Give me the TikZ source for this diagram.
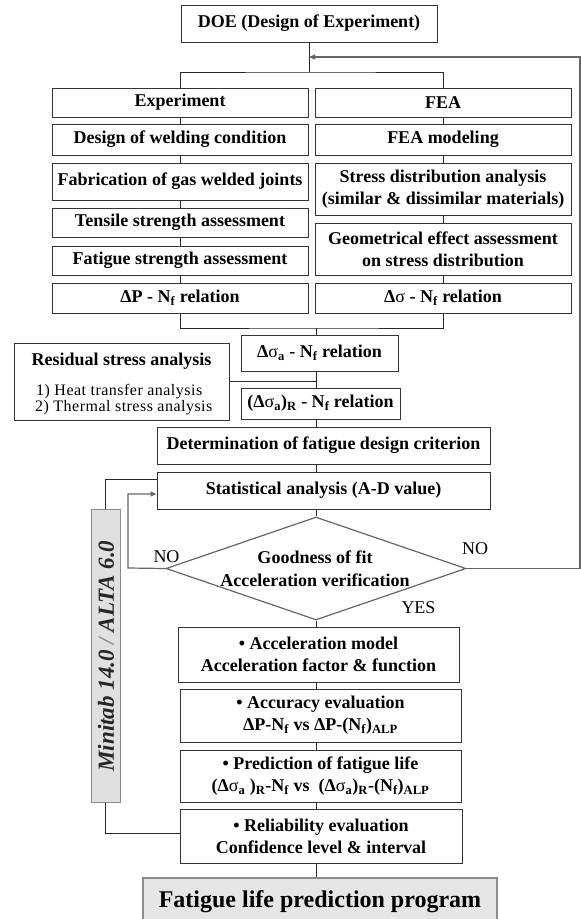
\documentclass[tikz,border=0pt]{standalone}
\usepackage{fontspec}
\setmainfont{Liberation Serif}
\usetikzlibrary{shapes.geometric,arrows.meta}
\begin{document}
\begin{tikzpicture}[x=1pt,y=-1pt,
  box/.style={draw=black!80, line width=1pt, fill=white, inner sep=0pt, align=center, font=\bfseries\fontsize{18}{22}\selectfont},
  ln/.style={draw=black!85, line width=0.8pt},
  fb/.style={draw=black!60, line width=1.2pt},
  tip/.style={-{Triangle[length=6pt,width=5pt]}},
  lbl/.style={inner sep=0pt, font=\fontsize{18}{20}\selectfont},
  rtxt/.style={inner sep=0pt, anchor=west, font=\fontsize{16}{16}\selectfont\addfontfeature{LetterSpace=3}}]
\clip (0,0) rectangle (581,919);
\fill[white] (0,0) rectangle (581,919);
% top
\node[box, minimum width=256pt, minimum height=37pt] (doe) at (309,23.5) {DOE (Design of Experiment)};
\node[box, minimum width=256pt, minimum height=29pt] (exp) at (180,102.5) {Experiment};
\node[box, minimum width=256pt, minimum height=29pt] (fea) at (443,102.5) {FEA};
\node[box, minimum width=256pt, minimum height=31pt] (e1) at (180,139.5) {Design of welding condition};
\node[box, minimum width=256pt, minimum height=31pt] (f1) at (443,139.5) {FEA modeling};
\node[box, minimum width=256pt, minimum height=37pt] (e2) at (180,181.5) {Fabrication of gas welded joints};
\node[box, minimum width=256pt, minimum height=52pt] (f2) at (443,189) {Stress distribution analysis\\(similar \& dissimilar materials)};
\node[box, minimum width=256pt, minimum height=29pt] (e3) at (180,222.5) {Tensile strength assessment};
\node[box, minimum width=256pt, minimum height=52pt] (f3) at (443,249) {Geometrical effect assessment\\on stress distribution};
\node[box, minimum width=256pt, minimum height=29pt] (e4) at (180,260.5) {Fatigue strength assessment};
\node[box, minimum width=256pt, minimum height=30pt] (e5) at (180,298) {ΔP - N\textsubscript{f} relation};
\node[box, minimum width=256pt, minimum height=30pt] (f4) at (443,298) {Δ{\mdseries σ} - N\textsubscript{f} relation};
% middle
\node[box, minimum width=157pt, minimum height=36pt] (sa) at (319.5,353) {Δ{\mdseries σ}\textsubscript{a} - N\textsubscript{f} relation};
\node[box, minimum width=215pt, minimum height=77pt] (res) at (121.5,381.5) {};
\node[inner sep=0pt, font=\bfseries\fontsize{18}{20}\selectfont] (rest) at (121.5,361) {Residual stress analysis};
\node[rtxt] (res1) at (36,392) {1) Heat transfer analysis};
\node[rtxt] (res2) at (35,407.5) {2) Thermal stress analysis};
\node[box, minimum width=159pt, minimum height=31pt] (sar) at (320.5,403.5) {(Δ{\mdseries σ}\textsubscript{a})\textsubscript{R} - N\textsubscript{f} relation};
\node[box, minimum width=333pt, minimum height=37pt] (det) at (323.5,445.5) {Determination of fatigue design criterion};
\node[box, minimum width=333pt, minimum height=37pt] (stat) at (323.5,490.5) {Statistical analysis (A-D value)};
\node[diamond, aspect=2.9, draw=black!60, line width=1.2pt, minimum width=300pt, minimum height=103pt, inner sep=0pt] (dia) at (316,568.5) {};
\node[inner sep=0pt, align=center, font=\bfseries\fontsize{18}{23}\selectfont] (diat) at (315,569) {Goodness of fit\\Acceleration verification};
\node[lbl] (nol) at (166.5,557) {NO};
\node[lbl] (nor) at (475,549) {NO};
\node[lbl] (yes) at (418.5,608) {YES};
% minitab
\node[draw=black!45, line width=1pt, fill=black!12, minimum width=29pt, minimum height=293pt, inner sep=0pt] (mini) at (105.5,655.5) {};
\node[rotate=90, inner sep=0pt, text=black!85, font=\bfseries\itshape\fontsize{23}{23}\selectfont] (minit) at (106,656) {Minitab 14.0 {\color{black!45}/} ALTA 6.0};
% lower
\node[box, minimum width=281pt, minimum height=55pt] (acc) at (318.5,654.5) {• Acceleration model\\Acceleration factor \& function};
\node[box, minimum width=281pt, minimum height=53pt] (accu) at (320.5,715.5) {• Accuracy evaluation\\ΔP-N\textsubscript{f} vs ΔP-(N\textsubscript{f})\textsubscript{ALP}};
\node[box, minimum width=281pt, minimum height=52pt] (pred) at (320.5,776) {• Prediction of fatigue life\\(Δ{\mdseries σ}\textsubscript{a} )\textsubscript{R}-N\textsubscript{f} vs\ \ (Δ{\mdseries σ}\textsubscript{a})\textsubscript{R}-(N\textsubscript{f})\textsubscript{ALP}};
\node[box, minimum width=282pt, minimum height=54pt] (rel) at (321,836) {• Reliability evaluation\\Confidence level \& interval};
\node[draw=black!45, line width=2pt, fill=black!10, minimum width=354pt, minimum height=62pt, inner sep=0pt] (fin) at (320,909) {};
\node[inner sep=0pt, font=\bfseries\fontsize{24}{24}\selectfont] (fint) at (320,902) {Fatigue life prediction program};
% connectors
\coordinate (sp) at (316,0);
\coordinate (br) at (309,72);
\coordinate (fbc) at (580,57);
\coordinate (mg) at (316,328);
\coordinate (lno) at (128,568);
\draw[ln] (doe.south) -- (br);
\draw[ln] (exp.north) |- (br) -| (fea.north);
\draw[fb, tip] (dia.east) -| (fbc) -- (doe.south |- fbc);
\draw[ln] (exp) -- (e1) -- (e2) -- (e3) -- (e4) -- (e5);
\draw[ln] (fea) -- (f1) -- (f2) -- (f3) -- (f4);
\draw[ln] (e5.south) |- (mg) -| (f4.south);
\draw[ln] (mg) -- (sa.north -| mg);
\draw[ln] (sa.south -| sp) -- (sar.north -| sp);
\draw[ln] (res.east) -- (res.east -| sp);
\draw[ln] (sar.south -| sp) -- (det.north -| sp);
\draw[ln] (det.south -| sp) -- (stat.north -| sp);
\draw[ln] (stat.south -| sp) -- (dia.north);
\draw[ln] (dia.south) -- (acc.north -| sp);
\draw[ln] (acc.south -| sp) -- (accu.north -| sp);
\draw[ln] (accu.south -| sp) -- (pred.north -| sp);
\draw[ln] (pred.south -| sp) -- (rel.north -| sp);
\draw[ln] (rel.south -| sp) -- (fin.north -| sp);
\draw[ln] ([yshift=11.5pt]stat.west) -| (mini.north);
\draw[ln] (mini.south) |- ([yshift=3pt]rel.west);
\draw[fb, tip] (dia.west) -- (lno) |- ([yshift=-3.5pt]stat.west);
\end{tikzpicture}
\end{document}
